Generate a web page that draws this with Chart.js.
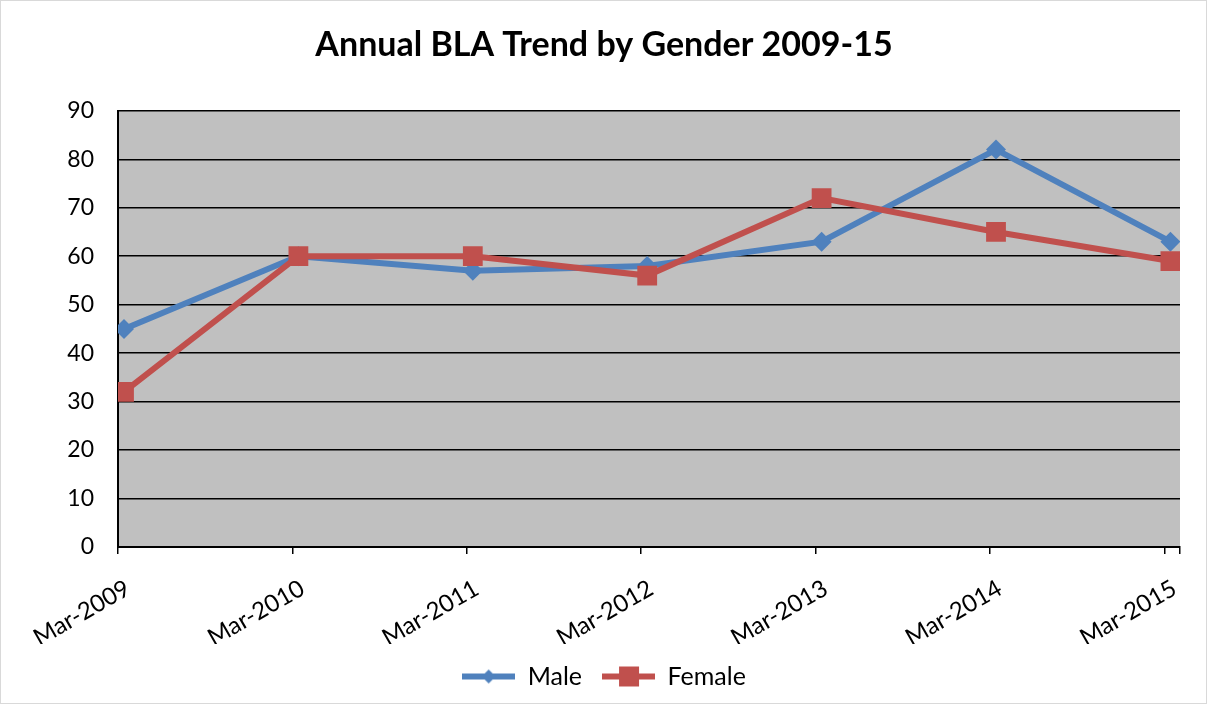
<!DOCTYPE html>
<html><head><meta charset="utf-8">
<script src="https://cdn.jsdelivr.net/npm/chart.js@4/dist/chart.umd.min.js"></script>
<style>html,body{margin:0;padding:0;background:#fff}#wrap{width:1208px;height:707px;position:relative}canvas{display:block}</style>
</head><body><div id="wrap"><canvas id="c" width="1208" height="707"></canvas></div>
<script>
const categories = ['Mar-2009','Mar-2010','Mar-2011','Mar-2012','Mar-2013','Mar-2014','Mar-2015'];
const maleValues = [45, 60, 57, 58, 63, 82, 63];
const femaleValues = [32, 60, 60, 56, 72, 65, 59];
const yTicks = [0, 10, 20, 30, 40, 50, 60, 70, 80, 90];
const chartTitle = 'Annual BLA Trend by Gender 2009-15';
const seriesNames = ['Male', 'Female'];

const BLUE = '#4F81BD', RED = '#C0504D';
const FONT = 'Lato, "Open Sans", sans-serif';
const TICK_SHIFT = 0.0344;

function legendImg(color, shape) {
  const c = document.createElement('canvas');
  c.width = 53; c.height = 22;
  const g = c.getContext('2d');
  g.strokeStyle = color; g.lineWidth = 6;
  g.beginPath(); g.moveTo(0, 11); g.lineTo(53, 11); g.stroke();
  g.fillStyle = color;
  if (shape === 'diamond') {
    g.beginPath(); g.moveTo(26.5, 4); g.lineTo(33.5, 11); g.lineTo(26.5, 18); g.lineTo(19.5, 11); g.closePath(); g.fill();
  } else {
    g.fillRect(17, 1, 20, 20);
  }
  return c;
}
const maleImg = legendImg(BLUE, 'diamond');
const femaleImg = legendImg(RED, 'square');

const bgPlugin = {
  id: 'bg',
  beforeDraw(chart) {
    const {ctx, chartArea: a} = chart;
    ctx.save();
    ctx.fillStyle = '#C0C0C0';
    ctx.fillRect(a.left, a.top, a.right - a.left, a.bottom - a.top);
    ctx.strokeStyle = '#d9d9d9'; ctx.lineWidth = 1;
    ctx.strokeRect(0.5, 0.5, 1206, 703);
    ctx.restore();
  }
};

new Chart(document.getElementById('c'), {
  type: 'line',
  data: {
    datasets: [
      { label: seriesNames[0], data: maleValues.map((v, i) => ({x: i, y: v})),
        borderColor: BLUE, backgroundColor: BLUE, borderWidth: 6, pointStyle: 'rectRot',
        pointRadius: 10, pointHoverRadius: 10, pointBorderWidth: 0, pointBackgroundColor: BLUE, order: 1, tension: 0 },
      { label: seriesNames[1], data: femaleValues.map((v, i) => ({x: i, y: v})),
        borderColor: RED, backgroundColor: RED, borderWidth: 6, pointStyle: 'rect',
        pointRadius: 14, pointHoverRadius: 14, pointBorderWidth: 0, pointBackgroundColor: RED, order: 0, tension: 0 }
    ]
  },
  options: {
    responsive: false,
    animation: false,
    events: [],
    layout: { padding: { left: 0, right: 0, top: 0, bottom: 8 } },
    scales: {
      x: {
        type: 'linear',
        min: -TICK_SHIFT, max: 6.055,
        afterBuildTicks(scale) {
          scale.ticks = categories.map((_, i) => ({value: i - TICK_SHIFT})).concat([{value: 6.055}]);
        },
        afterFit(scale) { scale.height = 97; scale.paddingLeft = 0; scale.paddingRight = 28; },
        grid: { display: true, drawOnChartArea: false, drawTicks: true, tickLength: 7, color: '#000', lineWidth: 1.5 },
        border: { color: '#000', width: 2 },
        ticks: {
          autoSkip: false, minRotation: 30, maxRotation: 30, padding: 20, labelOffset: 10,
          color: '#000', font: { family: FONT, size: 24 },
          callback: (v, i) => categories[i] !== undefined ? categories[i] : ''
        }
      },
      y: {
        min: 0, max: 90,
        afterBuildTicks(scale) { scale.ticks = yTicks.map(v => ({value: v})); },
        afterFit(scale) { scale.width = 118; },
        grid: { color: '#000', lineWidth: 1.5, drawTicks: false },
        border: { color: '#000', width: 2 },
        ticks: { padding: 24, color: '#000', font: { family: FONT, size: 23 } }
      }
    },
    plugins: {
      title: { display: true, text: chartTitle, color: '#000',
        font: { family: FONT, size: 34, weight: 'bold' }, padding: { top: 25, bottom: 45 } },
      legend: {
        position: 'bottom',
        labels: {
          usePointStyle: true, pointStyleWidth: 53, padding: 20,
          color: '#000', font: { family: FONT, size: 25 },
          generateLabels: () => [
            { text: seriesNames[0], pointStyle: maleImg, fillStyle: BLUE, strokeStyle: BLUE, lineWidth: 0, hidden: false, datasetIndex: 0 },
            { text: seriesNames[1], pointStyle: femaleImg, fillStyle: RED, strokeStyle: RED, lineWidth: 0, hidden: false, datasetIndex: 1 }
          ]
        }
      },
      tooltip: { enabled: false }
    }
  },
  plugins: [bgPlugin]
});
</script>
</body></html>
